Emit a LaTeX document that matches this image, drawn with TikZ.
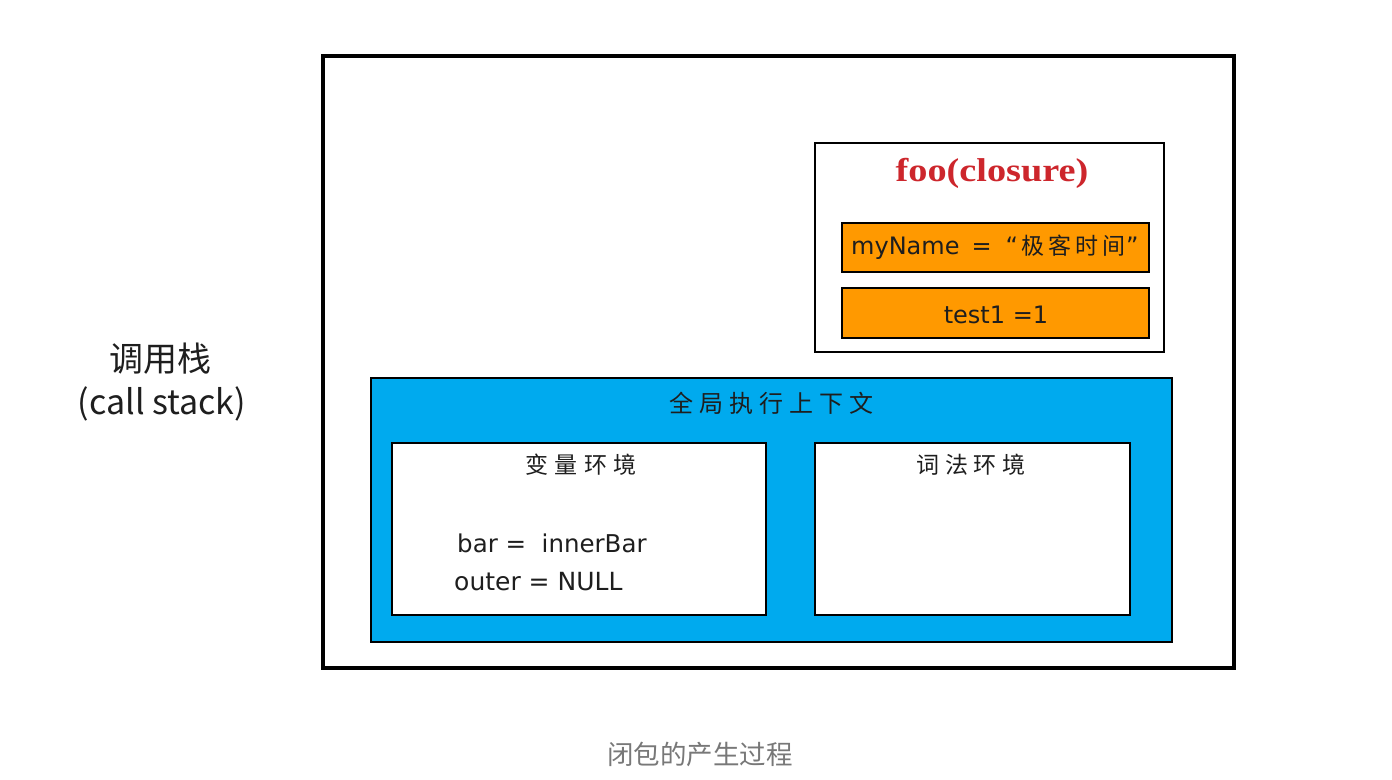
\documentclass[tikz,border=0pt]{standalone}
\usepackage{fontspec}
\usetikzlibrary{decorations.pathmorphing}
\setmainfont{DejaVu Sans}
\newfontfamily\cjk{Noto Sans CJK SC}
\newfontfamily\serifb[FakeStretch=1.16]{Liberation Serif}
\newfontfamily\hand{DejaVu Sans}
\definecolor{stackblue}{RGB}{0,170,238}
\definecolor{varorange}{RGB}{255,153,0}
\definecolor{closred}{RGB}{205,38,44}
\definecolor{captiongray}{RGB}{120,120,120}
\definecolor{ink}{RGB}{30,30,30}
\tikzset{
  frame/.style={draw=black, line width=3.2pt},
  framerough/.style={draw=black, line width=1pt, decorate,
     decoration={random steps, segment length=2pt, amplitude=0.6pt}},
  thinbox/.style={draw=black, line width=1.3pt, fill=white},
  orangebox/.style={draw=black, line width=1.3pt, fill=varorange},
  bluebox/.style={draw=black, line width=1.3pt, fill=stackblue},
  lbl/.style={inner sep=0pt, text=ink},
}
\newcommand{\gk}{\kern6pt}
\newcommand{\vk}{\kern6.5pt}
\begin{document}
\begin{tikzpicture}[x=1pt,y=-1pt]
\useasboundingbox (0,0) rectangle (1392,779);
\fill[white] (0,0) rectangle (1392,779);
% outer call stack frame
\draw[frame] (323,56) rectangle (1234,668);
\draw[framerough] (323,56) rectangle (1234,668);
% foo closure
\draw[thinbox] (815,143) rectangle (1164,352);
\node[lbl, anchor=base, text=closred, font=\serifb\bfseries\fontsize{33}{36}\selectfont] (foo) at (992,181) {foo(closure)};
\draw[orangebox] (842,223) rectangle (1149,272);
\node[lbl, anchor=base west, font=\hand\fontsize{24}{28}\selectfont] (myname) at (851,254)
  {myName\kern12pt=\kern14pt“\kern3pt{\cjk\fontsize{23}{26}\selectfont 极\kern4pt 客\kern4pt 时\kern4pt 间}\kern1pt”};
\draw[orangebox] (842,288) rectangle (1149,338);
\node[lbl, font=\hand\fontsize{24}{28}\selectfont] (test1) at (996,315) {test1 =1};
% global execution context
\draw[bluebox] (371,378) rectangle (1172,642);
\node[lbl, font=\cjk\fontsize{24}{28}\selectfont] (gec) at (771,403) {全\gk 局\gk 执\gk 行\gk 上\gk 下\gk 文};
\draw[thinbox] (392,443) rectangle (766,615);
\node[lbl, font=\cjk\fontsize{23}{26}\selectfont] (varenv) at (581,465) {变\vk 量\vk 环\vk 境};
\node[lbl, anchor=base west, font=\hand\fontsize{24.5}{28}\selectfont] (bar) at (457,552) {bar =\ \ innerBar};
\node[lbl, anchor=base west, font=\hand\fontsize{25}{28}\selectfont] (outer) at (454,590) {outer = NULL};
\draw[thinbox] (815,443) rectangle (1130,615);
\node[lbl, font=\cjk\fontsize{23}{26}\selectfont] (lexenv) at (971,465) {词\kern5.5pt 法\kern5.5pt 环\kern5.5pt 境};
% call stack label
\node[lbl, font=\cjk\fontsize{34}{38}\selectfont] (cs1) at (160,359) {调用栈};
\node[lbl, font=\cjk\fontsize{34}{38}\selectfont] (cs2) at (162,404) {(call stack)};
% caption
\node[lbl, text=captiongray, font=\cjk\fontsize{26.5}{30}\selectfont] (cap) at (700,754) {闭包的产生过程};
\end{tikzpicture}
\end{document}
